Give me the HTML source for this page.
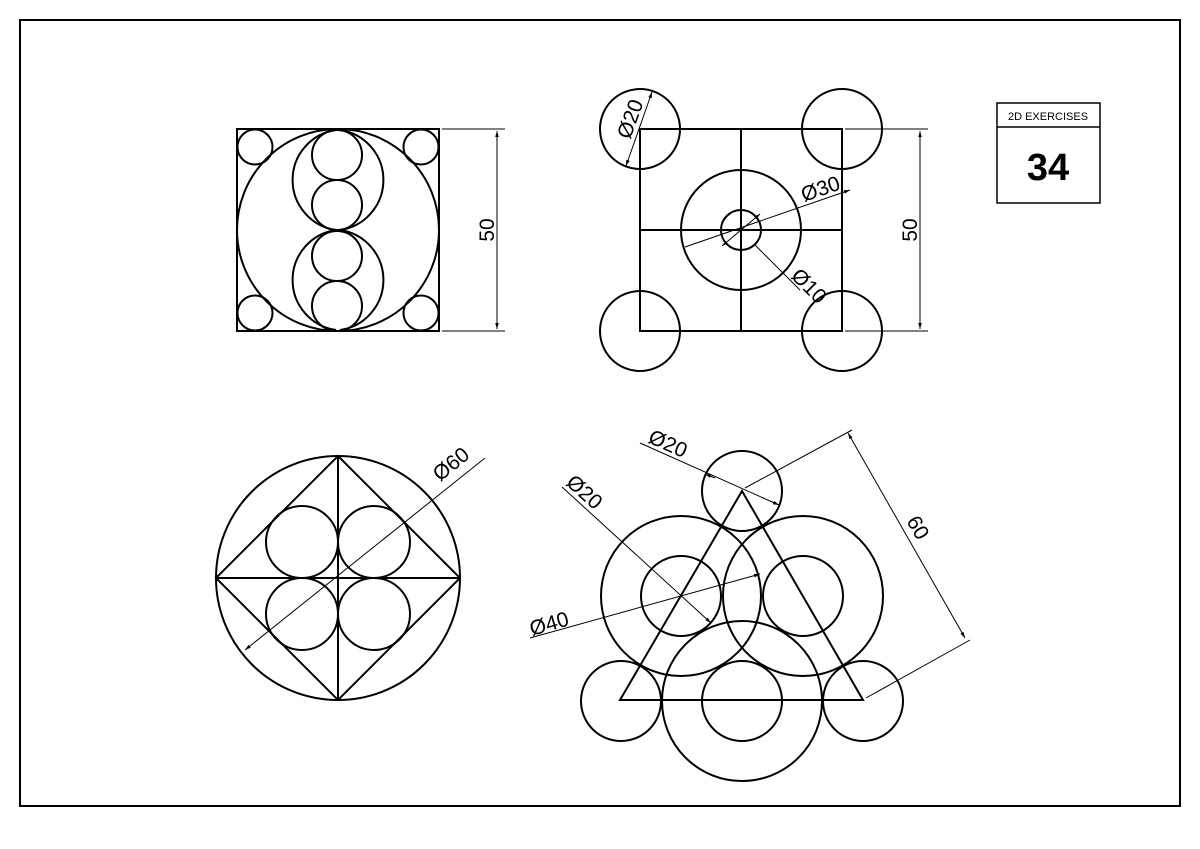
<!DOCTYPE html>
<html><head><style>body{margin:0;background:#fff}svg{display:block}</style></head><body>
<svg width="1200" height="849" viewBox="0 0 1200 849" xmlns="http://www.w3.org/2000/svg" font-family="Liberation Sans, sans-serif">
<defs><marker id="a" viewBox="0 0 10 10" refX="10" refY="5" markerWidth="10" markerHeight="6" orient="auto-start-reverse" markerUnits="userSpaceOnUse"><path d="M0,2 L10,5 L0,8z" fill="#000"/></marker></defs>
<rect x="20" y="20" width="1160" height="786" fill="none" stroke="#000" stroke-width="2"/>
<g fill="none" stroke="#000" stroke-width="2">
<rect x="237" y="129" width="202" height="202"/>
<circle cx="338" cy="230" r="101"/>
<circle cx="255" cy="147" r="17.5"/><circle cx="421" cy="147" r="17.5"/>
<circle cx="255" cy="313" r="17.5"/><circle cx="421" cy="313" r="17.5"/>
<circle cx="337" cy="155" r="25"/><circle cx="337" cy="205" r="25"/>
<circle cx="337" cy="256" r="25"/><circle cx="337" cy="306" r="25"/>
<path d="M336,130 A50.5,50.5 0 0 0 336,230 M340,130 A50.5,50.5 0 0 1 340,230 M336,230 A50.5,50.5 0 0 0 336,330 M340,230 A50.5,50.5 0 0 1 340,330"/>
<rect x="640" y="129" width="202" height="202"/>
<line x1="741" y1="129" x2="741" y2="331"/><line x1="640" y1="230" x2="842" y2="230"/>
<circle cx="640" cy="129" r="40"/><circle cx="842" cy="129" r="40"/>
<circle cx="640" cy="331" r="40"/><circle cx="842" cy="331" r="40"/>
<circle cx="741" cy="230" r="60"/><circle cx="741" cy="230" r="20"/>
<circle cx="338" cy="578" r="122"/>
<path d="M338,456 L460,578 L338,700 L216,578Z M216,578 H460 M338,456 V700"/>
<circle cx="302" cy="542" r="36"/><circle cx="374" cy="542" r="36"/>
<circle cx="302" cy="614" r="36"/><circle cx="374" cy="614" r="36"/>
<path d="M620,700 L742,491 L863,700Z"/>
<circle cx="742" cy="491" r="40"/>
<circle cx="681" cy="596" r="80"/><circle cx="681" cy="596" r="40"/>
<circle cx="803" cy="596" r="80"/><circle cx="803" cy="596" r="40"/>
<circle cx="742" cy="701" r="80"/><circle cx="742" cy="701" r="40"/>
<circle cx="621" cy="701" r="40"/><circle cx="863" cy="701" r="40"/>
</g>
<g stroke="#000" stroke-width="1" fill="none">
<line x1="442" y1="129" x2="505" y2="129"/><line x1="442" y1="331" x2="505" y2="331"/>
<line x1="497" y1="131" x2="497" y2="329" marker-start="url(#a)" marker-end="url(#a)"/>
<line x1="845" y1="129" x2="928" y2="129"/><line x1="845" y1="331" x2="928" y2="331"/>
<line x1="920" y1="131" x2="920" y2="329" marker-start="url(#a)" marker-end="url(#a)"/>
<line x1="652" y1="92" x2="626" y2="166" marker-start="url(#a)" marker-end="url(#a)"/>
<line x1="685" y1="247" x2="850" y2="190" marker-end="url(#a)"/>
<line x1="722" y1="246" x2="760" y2="214" marker-start="url(#a)" marker-end="url(#a)"/>
<line x1="755" y1="245" x2="800" y2="290"/>
<line x1="245" y1="650" x2="485" y2="458" marker-start="url(#a)"/>
<line x1="640" y1="443" x2="779" y2="505" marker-end="url(#a)"/>
<line x1="705" y1="474" x2="715" y2="478" marker-start="url(#a)"/>
<line x1="562" y1="487" x2="711" y2="623" marker-end="url(#a)"/>
<line x1="530" y1="638" x2="760" y2="574" marker-end="url(#a)"/>
<line x1="745" y1="488" x2="852" y2="430"/><line x1="866" y1="698" x2="970" y2="640"/>
<line x1="848" y1="433" x2="965" y2="638" marker-start="url(#a)" marker-end="url(#a)"/>
</g>
<g font-size="21" fill="#000">
<text transform="translate(494,230) rotate(-90)" text-anchor="middle">50</text>
<text transform="translate(917,230) rotate(-90)" text-anchor="middle">50</text>
<text transform="translate(630,140) rotate(-70)">Ø20</text>
<text transform="translate(804,202) rotate(-19)">Ø30</text>
<text transform="translate(790,277) rotate(45)">Ø10</text>
<text transform="translate(440,482) rotate(-39)">Ø60</text>
<text transform="translate(647,442) rotate(24)">Ø20</text>
<text transform="translate(565,484) rotate(42)">Ø20</text>
<text transform="translate(532,636) rotate(-16)">Ø40</text>
<text transform="translate(906,521) rotate(60)">60</text>
</g>
<rect x="997" y="103" width="103" height="100" fill="none" stroke="#000" stroke-width="1.5"/>
<line x1="997" y1="127" x2="1100" y2="127" stroke="#000" stroke-width="1.5"/>
<text x="1048" y="120" font-size="11" text-anchor="middle">2D EXERCISES</text>
<text x="1048" y="180" font-size="38" font-weight="bold" text-anchor="middle">34</text>
</svg>
</body></html>
